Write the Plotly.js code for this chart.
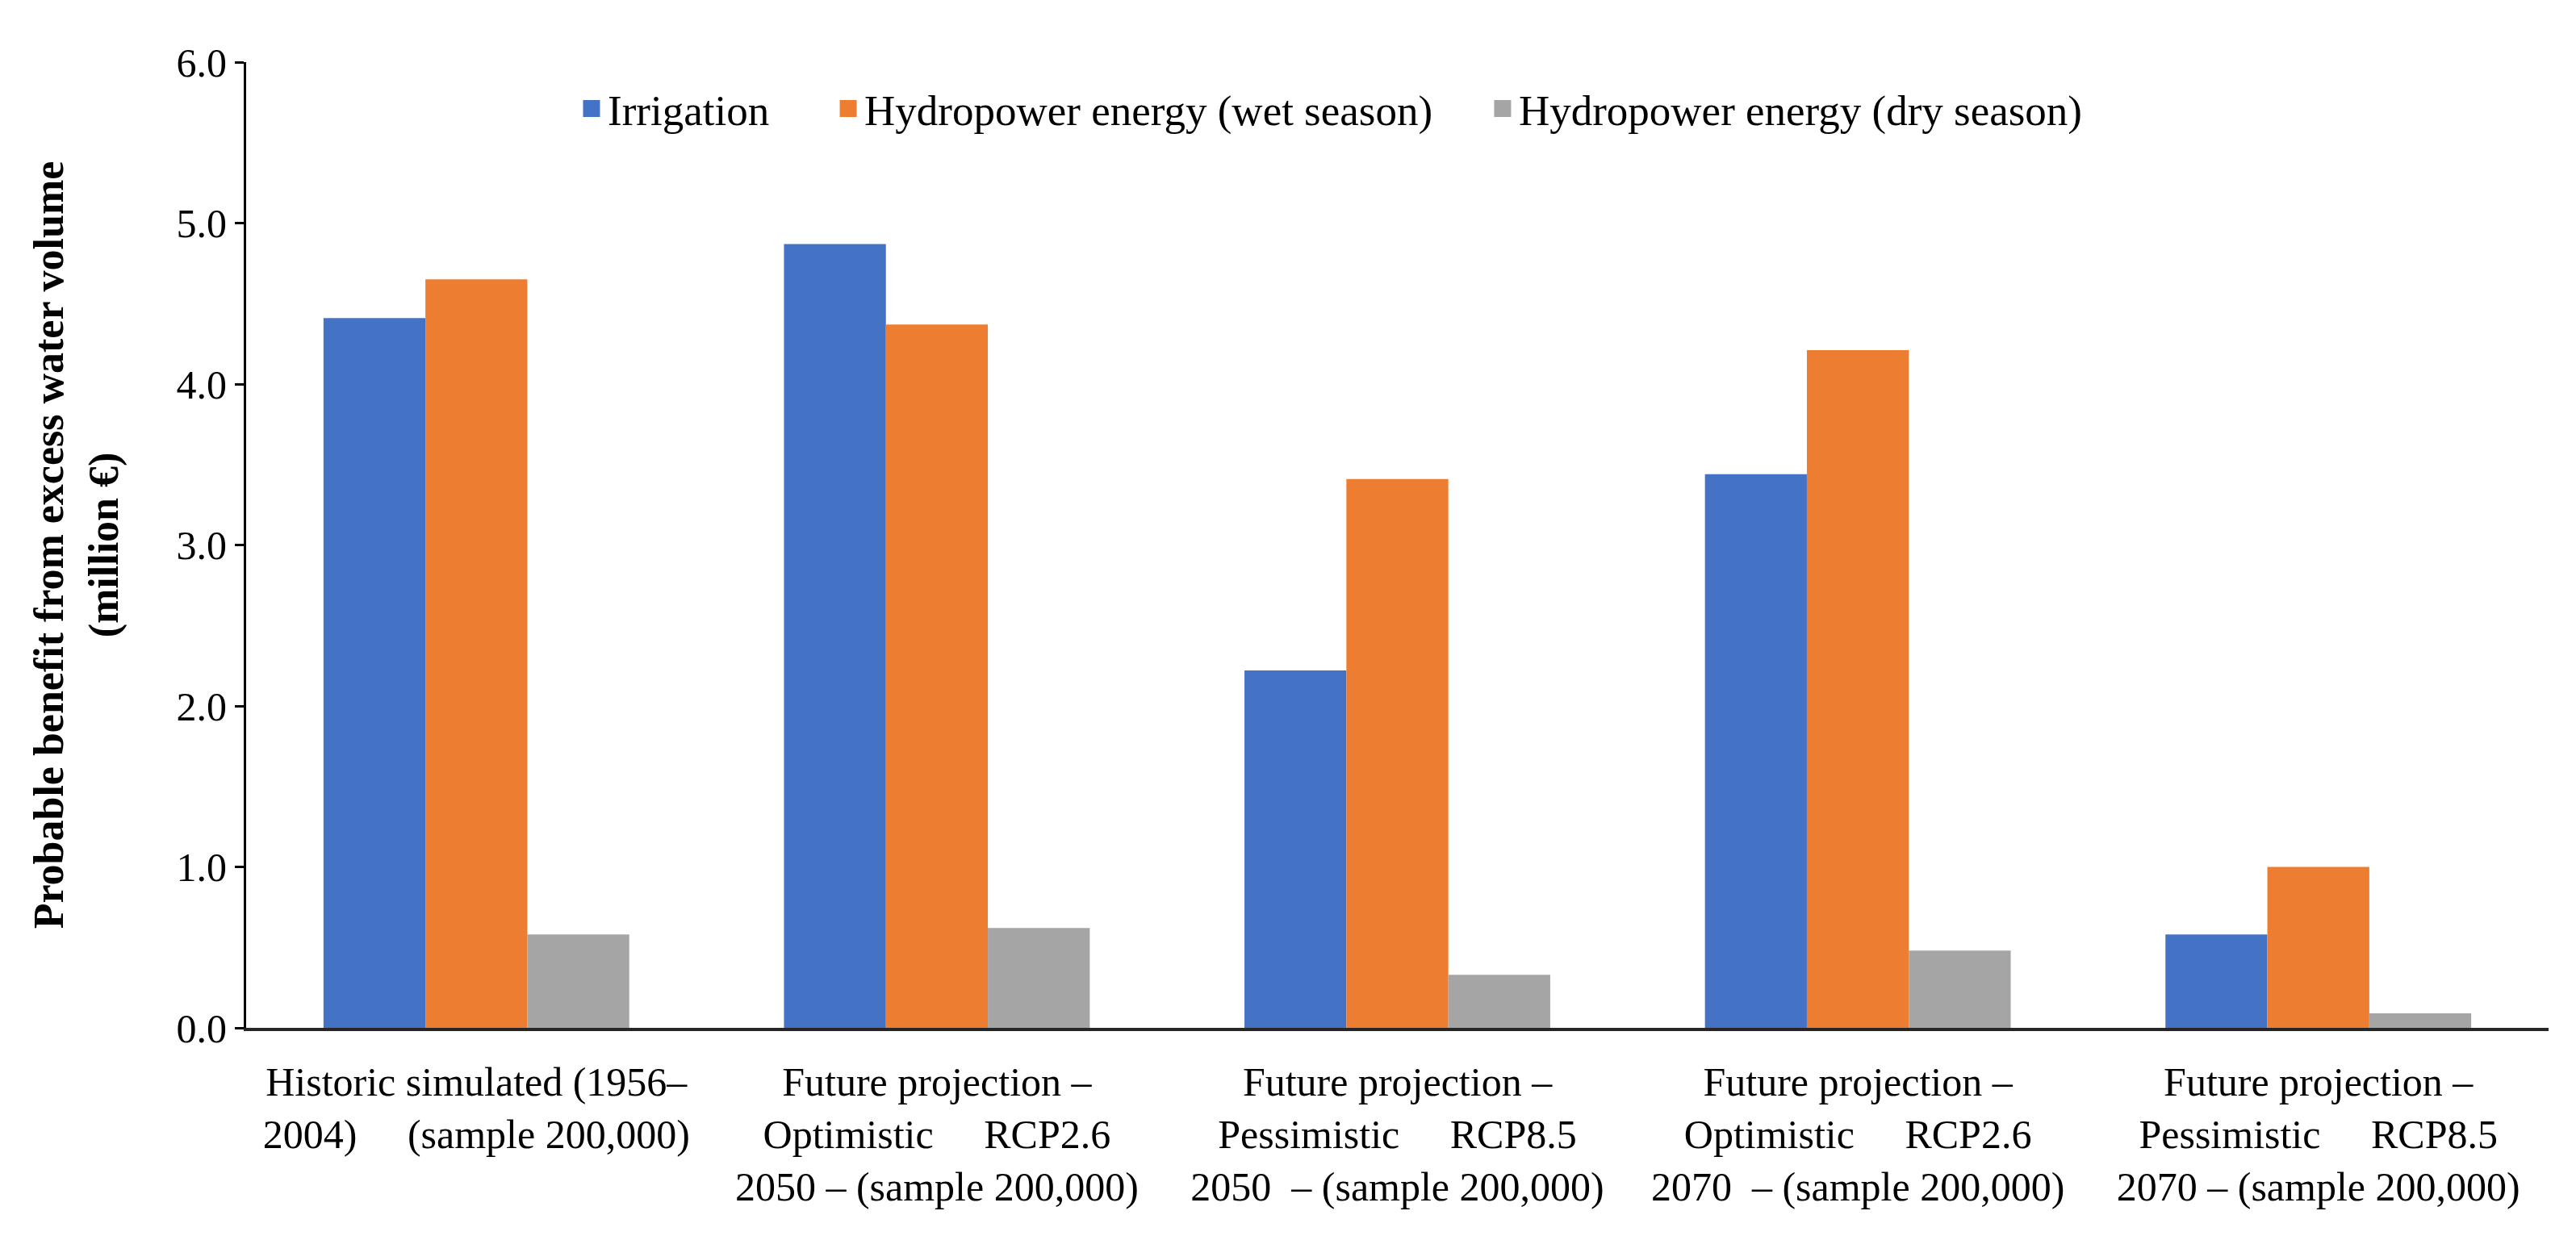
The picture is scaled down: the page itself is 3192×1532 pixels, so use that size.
<!DOCTYPE html>
<html>
<head>
<meta charset="utf-8">
<script src="https://cdn.plot.ly/plotly-3.0.1.min.js"></script>
<style>html,body{margin:0;padding:0;background:#fff;}#chart{width:3192px;height:1532px;}</style>
</head>
<body>
<div id="chart"></div>
<script>
const NB = '\u00A0';
const categories = [
  'Historic simulated (1956–<br>2004)' + NB.repeat(5) + '(sample 200,000)',
  'Future projection –<br>Optimistic' + NB.repeat(5) + 'RCP2.6<br>2050 – (sample 200,000)',
  'Future projection –<br>Pessimistic' + NB.repeat(5) + 'RCP8.5<br>2050' + NB + NB + '– (sample 200,000)',
  'Future projection –<br>Optimistic' + NB.repeat(5) + 'RCP2.6<br>2070' + NB + NB + '– (sample 200,000)',
  'Future projection –<br>Pessimistic' + NB.repeat(5) + 'RCP8.5<br>2070 – (sample 200,000)'
];
const seriesNames = ['Irrigation', 'Hydropower energy (wet season)', 'Hydropower energy (dry season)'];
const irrigation = [4.41, 4.87, 2.22, 3.44, 0.58];
const hydroWet = [4.65, 4.37, 3.41, 4.21, 1.00];
const hydroDry = [0.58, 0.62, 0.33, 0.48, 0.09];
const colors = ['#4472C4', '#ED7D31', '#A5A5A5'];
const yTicks = [0, 1, 2, 3, 4, 5, 6];

const font = 'Liberation Serif, Times New Roman, serif';
const xIdx = categories.map((c, i) => i);
const legendIds = ['legend', 'legend2', 'legend3'];
const legendX = [0.143, 0.2545, 0.5387];

const bars = [irrigation, hydroWet, hydroDry].map((vals, k) => ({
  type: 'bar',
  name: seriesNames[k],
  x: xIdx,
  y: vals,
  marker: {color: colors[k], line: {width: 0}},
  showlegend: false,
  hoverinfo: 'skip'
}));
// legend-only entries (no data drawn) to get larger legend swatches
const legendEntries = seriesNames.map((n, k) => ({
  type: 'scatter',
  mode: 'markers',
  name: n,
  x: [null],
  y: [null],
  marker: {symbol: 'square', size: 16, color: colors[k], line: {color: colors[k], width: 5}},
  legend: legendIds[k],
  showlegend: true,
  hoverinfo: 'skip'
}));

const layout = {
  width: 3192,
  height: 1532,
  paper_bgcolor: '#ffffff',
  plot_bgcolor: '#ffffff',
  margin: {l: 305, r: 34, t: 77, b: 258},
  barmode: 'group',
  bargap: 0.336,
  bargroupgap: 0,
  font: {family: font, size: 50, color: '#000000'},
  showlegend: true,
  xaxis: {
    type: 'linear',
    range: [-0.5, 4.5],
    tickmode: 'array',
    tickvals: xIdx,
    ticktext: categories,
    ticks: '',
    showgrid: false,
    zeroline: false,
    showline: true,
    linecolor: '#262626',
    linewidth: 4,
    tickfont: {family: font, size: 50, color: '#000000'},
    ticklabelstandoff: 20
  },
  yaxis: {
    range: [0, 6],
    tickmode: 'array',
    tickvals: yTicks,
    ticktext: yTicks.map(v => v.toFixed(1)),
    ticks: 'outside',
    ticklen: 11,
    tickwidth: 3,
    tickcolor: '#000000',
    showgrid: false,
    zeroline: false,
    showline: true,
    linecolor: '#000000',
    linewidth: 3,
    tickfont: {family: font, size: 50, color: '#000000'},
    title: {
      text: '<b>Probable benefit from excess water volume</b><br><b>(million €)</b>',
      font: {family: font, size: 52, color: '#000000'},
      standoff: 56
    }
  }
};
legendIds.forEach((id, k) => {
  layout[id] = {
    orientation: 'h',
    x: legendX[k], xanchor: 'left',
    y: 0.952, yanchor: 'middle',
    font: {family: font, size: 53, color: '#000000'},
    bgcolor: 'rgba(0,0,0,0)',
    itemsizing: 'trace'
  };
});

Plotly.newPlot('chart', bars.concat(legendEntries), layout, {displayModeBar: false, staticPlot: true});
</script>
</body>
</html>
